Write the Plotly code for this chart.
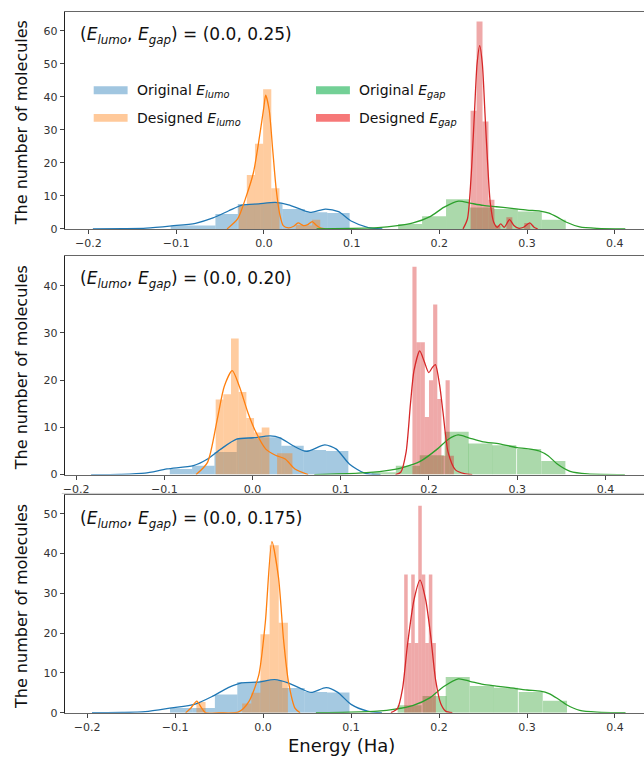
import plotly.graph_objects as go

# ======================= DATA =======================
# ---- Panel 1: (E_lumo, E_gap) = (0.0, 0.25)
P1_ORIG_LUMO_EDGES = [-0.1063, -0.0808, -0.0553, -0.0298, -0.0043, 0.0212, 0.0467, 0.0722]
P1_ORIG_LUMO_WIDTH = 0.0255
P1_ORIG_LUMO_COUNTS = [1.0, 1.0, 4.5, 7.5, 7.8, 6.0, 5.0, 4.8]
P1_ORIG_LUMO_KDE_X = [-0.195, -0.16, -0.134, -0.105, -0.078, -0.058, -0.04, -0.025, -0.006, 0.013, 0.028, 0.043, 0.054, 0.07, 0.085, 0.1, 0.119, 0.135]
P1_ORIG_LUMO_KDE_Y = [0.0, 0.05, 0.2, 0.9, 1.7, 3.3, 5.5, 7.2, 7.6, 8.0, 7.3, 5.8, 5.0, 6.0, 5.2, 2.3, 0.4, 0.0]

P1_DES_LUMO_EDGES = [-0.0288, -0.0195, -0.0102, -0.0009, 0.0084, 0.0177, 0.0270, 0.0363, 0.0456, 0.0549]
P1_DES_LUMO_WIDTH = 0.0093
P1_DES_LUMO_COUNTS = [7.0, 16.3, 25.8, 42.3, 12.3, 0.0, 0.0, 1.2, 1.0, 2.8]
P1_DES_LUMO_KDE_X = [-0.042, -0.03, -0.02, -0.012, -0.005, 0.0, 0.002, 0.006, 0.01, 0.014, 0.018, 0.022, 0.028, 0.034, 0.039, 0.045, 0.05, 0.055, 0.06, 0.065, 0.07]
P1_DES_LUMO_KDE_Y = [0.0, 3.0, 10.0, 17.0, 28.0, 37.0, 40.5, 36.0, 24.0, 12.0, 4.5, 1.0, 0.3, 0.8, 1.8, 1.0, 1.3, 2.2, 1.0, 0.2, 0.0]

P1_ORIG_GAP_EDGES = [0.1530, 0.1803, 0.2076, 0.2349, 0.2622, 0.2895, 0.3168]
P1_ORIG_GAP_WIDTH = 0.0273
P1_ORIG_GAP_COUNTS = [1.5, 3.8, 9.0, 6.5, 6.0, 5.3, 2.8]
P1_ORIG_GAP_KDE_X = [0.06, 0.1, 0.13, 0.15, 0.17, 0.19, 0.205, 0.222, 0.235, 0.25, 0.265, 0.28, 0.3, 0.315, 0.325, 0.335, 0.345, 0.36, 0.38, 0.412]
P1_ORIG_GAP_KDE_Y = [0.0, 0.15, 0.4, 0.9, 1.8, 3.8, 6.5, 8.4, 7.8, 7.1, 6.7, 6.3, 5.7, 5.4, 4.8, 3.5, 2.0, 0.6, 0.15, 0.0]

P1_DES_GAP_EDGES = [0.2356, 0.2424, 0.2492, 0.2560, 0.2628, 0.2696, 0.2764, 0.2832, 0.2900, 0.2968]
P1_DES_GAP_WIDTH = 0.0068
P1_DES_GAP_COUNTS = [35.8, 62.8, 32.5, 8.8, 1.0, 0.0, 3.5, 0.0, 0.0, 1.8]
P1_DES_GAP_KDE_X = [0.227, 0.232, 0.236, 0.24, 0.243, 0.246, 0.249, 0.252, 0.255, 0.258, 0.262, 0.266, 0.27, 0.274, 0.28, 0.285, 0.29, 0.296, 0.303, 0.308, 0.312]
P1_DES_GAP_KDE_Y = [0.0, 3.0, 15.0, 35.0, 50.0, 55.5, 50.0, 35.0, 20.0, 8.0, 2.0, 0.5, 1.5, 0.5, 2.8, 1.0, 0.2, 0.5, 1.8, 0.5, 0.0]

# ---- Panel 2: (E_lumo, E_gap) = (0.0, 0.20)
P2_ORIG_LUMO_EDGES = [-0.0938, -0.0685, -0.0432, -0.0179, 0.0074, 0.0327, 0.0580, 0.0833]
P2_ORIG_LUMO_WIDTH = 0.0253
P2_ORIG_LUMO_COUNTS = [1.2, 1.9, 4.8, 7.7, 7.9, 6.1, 5.2, 5.0]
P2_ORIG_LUMO_KDE_X = [-0.183, -0.15, -0.122, -0.097, -0.067, -0.051, -0.036, -0.018, 0.001, 0.02, 0.031, 0.046, 0.061, 0.082, 0.095, 0.11, 0.127, 0.145]
P2_ORIG_LUMO_KDE_Y = [0.0, 0.05, 0.3, 1.2, 1.9, 3.3, 5.4, 7.5, 7.8, 8.2, 7.8, 6.1, 4.9, 6.3, 5.4, 2.2, 0.3, 0.0]

P2_DES_LUMO_EDGES = [-0.0418, -0.0331, -0.0244, -0.0157, -0.0070, 0.0017, 0.0104, 0.0191, 0.0278, 0.0365]
P2_DES_LUMO_WIDTH = 0.0087
P2_DES_LUMO_COUNTS = [15.9, 17.0, 28.8, 17.5, 12.0, 8.9, 10.0, 0.0, 4.5, 4.5]
P2_DES_LUMO_KDE_X = [-0.064, -0.051, -0.04, -0.032, -0.023, -0.015, -0.005, 0.004, 0.015, 0.026, 0.037, 0.048, 0.063]
P2_DES_LUMO_KDE_Y = [0.0, 2.6, 11.7, 18.7, 22.0, 18.7, 13.0, 8.9, 5.4, 4.1, 3.3, 1.2, 0.0]

P2_ORIG_GAP_EDGES = [0.1350, 0.1624, 0.1895, 0.2177, 0.2445, 0.2716, 0.2998, 0.3273]
P2_ORIG_GAP_WIDTH = 0.0273
P2_ORIG_GAP_COUNTS = [0.5, 1.9, 4.1, 9.1, 6.6, 6.2, 5.4, 2.9]
P2_ORIG_GAP_KDE_X = [0.07, 0.12, 0.15, 0.17, 0.19, 0.21, 0.222, 0.233, 0.245, 0.26, 0.28, 0.3, 0.315, 0.325, 0.335, 0.345, 0.36, 0.38, 0.422]
P2_ORIG_GAP_KDE_Y = [0.0, 0.3, 0.8, 1.5, 2.8, 5.5, 7.5, 8.4, 7.8, 7.0, 6.5, 5.7, 5.4, 5.0, 4.0, 2.3, 0.7, 0.15, 0.0]

P2_DES_GAP_EDGES = [0.1812, 0.1859, 0.1906, 0.1953, 0.2000, 0.2047, 0.2094, 0.2141, 0.2188, 0.2235]
P2_DES_GAP_WIDTH = 0.0047
P2_DES_GAP_COUNTS = [44.0, 28.0, 28.0, 12.2, 20.0, 36.0, 16.0, 4.0, 20.0, 4.0]
P2_DES_GAP_KDE_X = [0.162, 0.168, 0.174, 0.179, 0.183, 0.1895, 0.1945, 0.1997, 0.2035, 0.2072, 0.212, 0.216, 0.2217, 0.23, 0.24, 0.249]
P2_DES_GAP_KDE_Y = [0.0, 0.5, 4.7, 15.0, 22.0, 26.2, 24.0, 21.6, 22.6, 23.3, 19.0, 13.0, 4.7, 1.0, 0.2, 0.0]

# ---- Panel 3: (E_lumo, E_gap) = (0.0, 0.175)
P3_ORIG_LUMO_EDGES = [-0.1058, -0.0803, -0.0548, -0.0293, -0.0038, 0.0217, 0.0472, 0.0727]
P3_ORIG_LUMO_WIDTH = 0.0255
P3_ORIG_LUMO_COUNTS = [1.2, 1.2, 4.6, 7.7, 8.1, 6.2, 5.2, 5.1]
P3_ORIG_LUMO_KDE_X = [-0.1945, -0.16, -0.134, -0.104, -0.078, -0.0585, -0.0396, -0.0245, -0.0057, 0.0132, 0.0283, 0.0434, 0.0547, 0.0717, 0.0849, 0.1, 0.1189, 0.135]
P3_ORIG_LUMO_KDE_Y = [0.0, 0.05, 0.25, 1.2, 2.1, 4.0, 6.3, 7.5, 7.7, 8.3, 7.5, 6.0, 5.1, 6.3, 5.1, 2.1, 0.4, 0.0]

P3_DES_LUMO_EDGES = [-0.0758, -0.0654, -0.0550, -0.0446, -0.0342, -0.0238, -0.0134, -0.0030, 0.0074, 0.0178]
P3_DES_LUMO_WIDTH = 0.0104
P3_DES_LUMO_COUNTS = [2.7, 0.0, 0.0, 0.0, 0.0, 2.3, 5.0, 19.7, 42.1, 22.6]
P3_DES_LUMO_KDE_X = [-0.088, -0.082, -0.0754, -0.07, -0.0655, -0.05, -0.0277, -0.0164, -0.005, 0.0025, 0.010, 0.0175, 0.0232, 0.0289, 0.0364, 0.042]
P3_DES_LUMO_KDE_Y = [0.0, 1.2, 2.9, 1.2, 0.0, 0.0, 0.2, 2.7, 9.4, 22.6, 43.0, 34.0, 18.5, 7.7, 1.1, 0.0]

P3_ORIG_GAP_EDGES = [0.1529, 0.1812, 0.2076, 0.2351, 0.2623, 0.2906, 0.3182]
P3_ORIG_GAP_WIDTH = 0.0273
P3_ORIG_GAP_COUNTS = [1.9, 4.2, 9.0, 6.7, 6.3, 5.2, 3.0]
P3_ORIG_GAP_KDE_X = [0.06, 0.1, 0.13, 0.15, 0.17, 0.19, 0.205, 0.222, 0.235, 0.25, 0.265, 0.28, 0.3, 0.315, 0.325, 0.335, 0.345, 0.36, 0.38, 0.412]
P3_ORIG_GAP_KDE_Y = [0.0, 0.15, 0.4, 0.9, 1.8, 3.8, 6.5, 8.5, 7.9, 7.1, 6.7, 6.3, 5.7, 5.4, 4.8, 3.5, 2.0, 0.6, 0.15, 0.0]

P3_DES_GAP_EDGES = [0.1604, 0.1644, 0.1684, 0.1724, 0.1764, 0.1804, 0.1844, 0.1884, 0.1924]
P3_DES_GAP_WIDTH = 0.0040
P3_DES_GAP_COUNTS = [34.7, 17.5, 34.7, 17.5, 52.0, 34.7, 17.5, 34.7, 17.5]
P3_DES_GAP_KDE_X = [0.1453, 0.1529, 0.1585, 0.164, 0.1716, 0.1784, 0.1848, 0.1905, 0.1962, 0.2019, 0.2075, 0.2151]
P3_DES_GAP_KDE_Y = [0.0, 1.1, 6.0, 16.8, 28.4, 33.3, 28.4, 19.3, 8.1, 2.3, 0.4, 0.0]

PANEL_LABELS = ["(0.0, 0.25)", "(0.0, 0.20)", "(0.0, 0.175)"]
X_TICKS = [-0.2, -0.1, 0.0, 0.1, 0.2, 0.3, 0.4]
X_TICK_TEXT = ["\u22120.2", "\u22120.1", "0.0", "0.1", "0.2", "0.3", "0.4"]
Y_TICKS = [[0, 10, 20, 30, 40, 50, 60], [0, 10, 20, 30, 40], [0, 10, 20, 30, 40, 50]]
X_RANGES = [[-0.227, 0.4333], [-0.2128, 0.4437], [-0.2254, 0.433]]
Y_RANGES = [[0, 65.8], [0, 46.3], [0, 54.6]]
LEGEND_NAMES = ["Original <i>E<sub>lumo</sub></i>", "Designed <i>E<sub>lumo</sub></i>",
                "Original <i>E<sub>gap</sub></i>", "Designed <i>E<sub>gap</sub></i>"]

# ======================= STYLE =======================
W, H = 644, 763
FONT = "DejaVu Sans"
C_BLUE, C_ORANGE, C_GREEN, C_RED = "#1f77b4", "#ff7f0e", "#2ca02c", "#d62728"
FILL = {C_BLUE: "rgba(31,119,180,0.4)", C_ORANGE: "rgba(255,127,14,0.4)",
        C_GREEN: "rgba(44,160,44,0.4)", C_RED: "rgba(214,39,40,0.4)"}
LEG_FILL = ["rgba(31,119,180,0.42)", "rgba(255,127,14,0.42)", "rgba(22,176,80,0.6)", "rgba(240,30,30,0.6)"]

def px_x(p):
    return p / W

def px_y(p):
    return 1 - p / H

# plot area pixel boxes (top, bottom)
PANEL_PX = [(11.7, 231.0), (258.3, 479.0), (500.0, 719.3)]
X_LEFT_PX = 63.0

panels = [
    [(P1_ORIG_LUMO_EDGES, P1_ORIG_LUMO_WIDTH, P1_ORIG_LUMO_COUNTS, P1_ORIG_LUMO_KDE_X, P1_ORIG_LUMO_KDE_Y, C_BLUE),
     (P1_DES_LUMO_EDGES, P1_DES_LUMO_WIDTH, P1_DES_LUMO_COUNTS, P1_DES_LUMO_KDE_X, P1_DES_LUMO_KDE_Y, C_ORANGE),
     (P1_ORIG_GAP_EDGES, P1_ORIG_GAP_WIDTH, P1_ORIG_GAP_COUNTS, P1_ORIG_GAP_KDE_X, P1_ORIG_GAP_KDE_Y, C_GREEN),
     (P1_DES_GAP_EDGES, P1_DES_GAP_WIDTH, P1_DES_GAP_COUNTS, P1_DES_GAP_KDE_X, P1_DES_GAP_KDE_Y, C_RED)],
    [(P2_ORIG_LUMO_EDGES, P2_ORIG_LUMO_WIDTH, P2_ORIG_LUMO_COUNTS, P2_ORIG_LUMO_KDE_X, P2_ORIG_LUMO_KDE_Y, C_BLUE),
     (P2_DES_LUMO_EDGES, P2_DES_LUMO_WIDTH, P2_DES_LUMO_COUNTS, P2_DES_LUMO_KDE_X, P2_DES_LUMO_KDE_Y, C_ORANGE),
     (P2_ORIG_GAP_EDGES, P2_ORIG_GAP_WIDTH, P2_ORIG_GAP_COUNTS, P2_ORIG_GAP_KDE_X, P2_ORIG_GAP_KDE_Y, C_GREEN),
     (P2_DES_GAP_EDGES, P2_DES_GAP_WIDTH, P2_DES_GAP_COUNTS, P2_DES_GAP_KDE_X, P2_DES_GAP_KDE_Y, C_RED)],
    [(P3_ORIG_LUMO_EDGES, P3_ORIG_LUMO_WIDTH, P3_ORIG_LUMO_COUNTS, P3_ORIG_LUMO_KDE_X, P3_ORIG_LUMO_KDE_Y, C_BLUE),
     (P3_DES_LUMO_EDGES, P3_DES_LUMO_WIDTH, P3_DES_LUMO_COUNTS, P3_DES_LUMO_KDE_X, P3_DES_LUMO_KDE_Y, C_ORANGE),
     (P3_ORIG_GAP_EDGES, P3_ORIG_GAP_WIDTH, P3_ORIG_GAP_COUNTS, P3_ORIG_GAP_KDE_X, P3_ORIG_GAP_KDE_Y, C_GREEN),
     (P3_DES_GAP_EDGES, P3_DES_GAP_WIDTH, P3_DES_GAP_COUNTS, P3_DES_GAP_KDE_X, P3_DES_GAP_KDE_Y, C_RED)],
]

fig = go.Figure()
layout = dict(width=W, height=H, margin=dict(l=0, r=0, t=0, b=0, pad=0),
              paper_bgcolor="white", plot_bgcolor="white", showlegend=False,
              barmode="overlay", font=dict(family=FONT, color="#222"))
annotations = []
shapes = []

for i, series in enumerate(panels):
    sfx = "" if i == 0 else str(i + 1)
    xa, ya = "x" + sfx, "y" + sfx
    for edges, width, counts, kx, ky, col in series:
        fig.add_trace(go.Bar(x=edges, y=counts, width=width, offset=0,
                             marker=dict(color=FILL[col], line=dict(width=0)),
                             xaxis=xa, yaxis=ya, hoverinfo="skip"))
        fig.add_trace(go.Scatter(x=kx, y=ky, mode="lines",
                                 line=dict(color=col, width=1.3, shape="spline", smoothing=0.7),
                                 xaxis=xa, yaxis=ya, hoverinfo="skip"))
    top, bot = PANEL_PX[i]
    layout["xaxis" + sfx] = dict(domain=[px_x(X_LEFT_PX), 1.0], range=X_RANGES[i], anchor=ya,
                                 tickvals=X_TICKS, ticktext=X_TICK_TEXT, ticks="outside",
                                 ticklen=4, tickcolor="#444", tickwidth=1,
                                 tickfont=dict(family=FONT, size=11, color="#333"),
                                 showline=True, linecolor="#666", linewidth=1.3, mirror=True,
                                 showgrid=False, zeroline=False, fixedrange=True)
    layout["yaxis" + sfx] = dict(domain=[px_y(bot), px_y(top)], range=Y_RANGES[i], anchor=xa,
                                 tickvals=Y_TICKS[i], ticks="outside", ticklen=4,
                                 tickcolor="#444", tickwidth=1,
                                 tickfont=dict(family=FONT, size=11, color="#333"),
                                 showline=True, linecolor="#222", linewidth=1, mirror=False,
                                 showgrid=False, zeroline=False, fixedrange=True)
    # y axis title
    annotations.append(dict(text="The number of molecules", x=px_x(19), y=px_y((top + bot) / 2 + 2),
                            xref="paper", yref="paper", showarrow=False, textangle=-90,
                            font=dict(family=FONT, size=16, color="#111"),
                            xanchor="center", yanchor="middle"))
    # panel label
    annotations.append(dict(text="(<i>E<sub>lumo</sub></i>, <i>E<sub>gap</sub></i>) = " + PANEL_LABELS[i],
                            x=px_x(76), y=px_y(top + 24), xref="paper", yref="paper",
                            showarrow=False, xanchor="left", yanchor="middle",
                            font=dict(family=FONT, size=17, color="#111")))

# legend (panel 1)
leg_pos = [(92, 91), (92, 119), (315, 91), (315, 119)]
for (lx, ly), name, fc in zip(leg_pos, LEGEND_NAMES, LEG_FILL):
    shapes.append(dict(type="rect", xref="paper", yref="paper",
                       x0=px_x(lx), x1=px_x(lx + 34), y0=px_y(ly + 4), y1=px_y(ly - 4),
                       fillcolor=fc, line=dict(width=0)))
    annotations.append(dict(text=name, x=px_x(lx + 41), y=px_y(ly + 1), xref="paper", yref="paper",
                            showarrow=False, xanchor="left", yanchor="middle",
                            font=dict(family=FONT, size=14, color="#111")))

# x axis title
annotations.append(dict(text="Energy (Ha)", x=px_x(341), y=px_y(752), xref="paper", yref="paper",
                        showarrow=False, xanchor="center", yanchor="middle",
                        font=dict(family=FONT, size=18, color="#111")))

# faint separator line between panel 2 and 3 images
shapes.append(dict(type="line", xref="paper", yref="paper", x0=px_x(60), x1=1.0,
                   y0=px_y(498), y1=px_y(498), line=dict(color="#cccccc", width=1)))

layout["annotations"] = annotations
layout["shapes"] = shapes
fig.update_layout(**layout)
fig.write_html("out.html", config={"displayModeBar": False},
               post_script="document.body.style.margin='0';document.body.style.overflow='hidden';")
